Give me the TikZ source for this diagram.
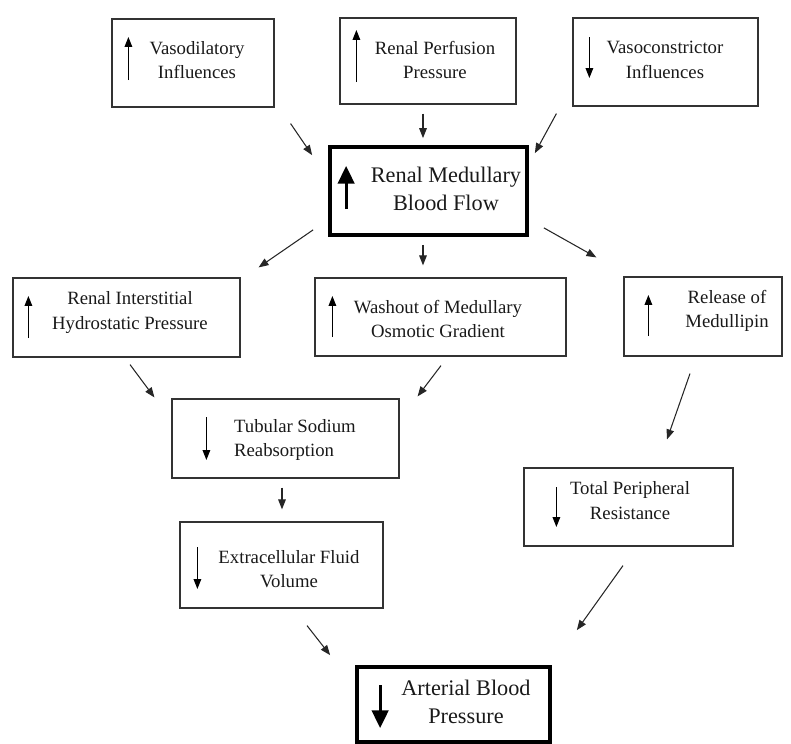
\documentclass[tikz,border=0pt]{standalone}
\usepackage{fontspec}
\setmainfont{Liberation Serif}
\usetikzlibrary{arrows.meta}

\tikzset{
  box/.style 2 args={draw=black!80, line width=1pt, inner sep=0pt,
    minimum width=#1*0.3mm, minimum height=#2*0.3mm},
  bigbox/.style 2 args={box={#1}{#2}, draw=black, line width=3.2pt},
  txt/.style={align=center, text=black!90, font=\fontsize{16}{21}\selectfont},
  bigtxt/.style={align=center, text=black!90, font=\fontsize{19}{24}\selectfont},
  flow/.style={line width=0.9pt, black!85, -{Triangle[length=8.5pt,width=6.5pt]}},
  ind/.style={line width=0.9pt, -{Triangle[length=8.5pt,width=6.5pt]}},
  bigind/.style={line width=2.6pt, -{Triangle[length=15pt,width=14pt]}}
}

\begin{document}
\begin{tikzpicture}[x=0.3mm,y=-0.3mm]
  \useasboundingbox (0,0) rectangle (791,744);

  % top row
  \node[box={162}{88}] (vaso) at (193,63) {};
  \node[txt] (vaso-t) at (197,60) {Vasodilatory\\Influences};
  \node[box={176}{86}] (perf) at (428,61) {};
  \node[txt] (perf-t) at (435,60) {Renal Perfusion\\Pressure};
  \node[box={185}{88}] (vcon) at (665.5,62) {};
  \node[txt] (vcon-t) at (665,60) {Vasoconstrictor\\Influences};

  % centre
  \node[bigbox={197}{88}] (rmbf) at (428.5,191) {};
  \node[bigtxt] (rmbf-t) at (446,189) {Renal Medullary\\Blood Flow};

  % middle row
  \node[box={227}{79}] (rihp) at (126.5,317.5) {};
  \node[txt] (rihp-t) at (130,312.5) {Renal Interstitial\\Hydrostatic Pressure};
  \node[box={251}{78}] (wash) at (440.5,317) {};
  \node[txt] (wash-t) at (438,319) {Washout of Medullary\\Osmotic Gradient};
  \node[box={158}{79}] (rel) at (703,316.5) {};
  \node[txt] (rel-t) at (727,311) {Release of\\Medullipin};

  \node[box={227}{79}] (tsr) at (285.5,438.5) {};
  \node[txt, align=left, anchor=west] (tsr-t) at (230,440) {Tubular Sodium\\Reabsorption};
  \node[box={209}{78}] (tpr) at (628.5,507) {};
  \node[txt] (tpr-t) at (630,500.5) {Total Peripheral\\Resistance};
  \node[box={203}{86}] (ecf) at (281.5,565) {};
  \node[txt] (ecf-t) at (289,569) {Extracellular Fluid\\Volume};

  % bottom
  \node[bigbox={193}{75}] (abp) at (453.5,704.5) {};
  \node[bigtxt] (abp-t) at (466,702) {Arterial Blood\\Pressure};

  % up / down marks in the boxes
  \draw[ind] ([shift={(17,17)}]vaso.west) -- ++(0,-43);
  \draw[ind] ([shift={(17,21)}]perf.west) -- ++(0,-52);
  \draw[ind] ([shift={(17,-25)}]vcon.west) -- ++(0,41);
  \draw[bigind] ([shift={(18,18)}]rmbf.west) -- ++(0,-43);
  \draw[ind] ([shift={(16,20.5)}]rihp.west) -- ++(0,-42);
  \draw[ind] ([shift={(18,20)}]wash.west) -- ++(0,-41);
  \draw[ind] ([shift={(25,19.5)}]rel.west) -- ++(0,-41);
  \draw[ind] ([shift={(35,-21.5)}]tsr.west) -- ++(0,43);
  \draw[ind] ([shift={(33,-20)}]tpr.west) -- ++(0,40);
  \draw[ind] ([shift={(18,-18)}]ecf.west) -- ++(0,42);
  \draw[bigind] ([shift={(25,-19.5)}]abp.west) -- ++(0,43);

  % connectors
  \draw[flow] ([shift={(16,16)}]vaso.south east) -- ([shift={(-16,10)}]rmbf.north west);
  \draw[flow] ([shift={(-5,9)}]perf.south) -- ([shift={(-5.5,-7)}]rmbf.north);
  \draw[flow] ([shift={(-16,7)}]vcon.south west) -- ([shift={(6,8)}]rmbf.north east);
  \draw[flow] ([shift={(-15,-7)}]rmbf.south west) -- ([shift={(18,-10)}]rihp.north east);
  \draw[flow] ([shift={(-5.5,8)}]rmbf.south) -- ([shift={(-17.5,-12)}]wash.north);
  \draw[flow] ([shift={(15,-9)}]rmbf.south east) -- ([shift={(-27,-19)}]rel.north west);
  \draw[flow] ([shift={(3.5,7)}]rihp.south) -- ([shift={(-17,-1)}]tsr.north west);
  \draw[flow] ([shift={(0.5,9)}]wash.south) -- ([shift={(18,-2)}]tsr.north east);
  \draw[flow] ([shift={(-13,17)}]rel.south) -- ([shift={(38.5,-28)}]tpr.north);
  \draw[flow] ([shift={(-3.5,9)}]tsr.south) -- ([shift={(0.5,-12)}]ecf.north);
  \draw[flow] ([shift={(25.5,17)}]ecf.south) -- ([shift={(-25,-10)}]abp.north west);
  \draw[flow] ([shift={(-5.5,19)}]tpr.south) -- ([shift={(25,-35)}]abp.north east);
\end{tikzpicture}
\end{document}
